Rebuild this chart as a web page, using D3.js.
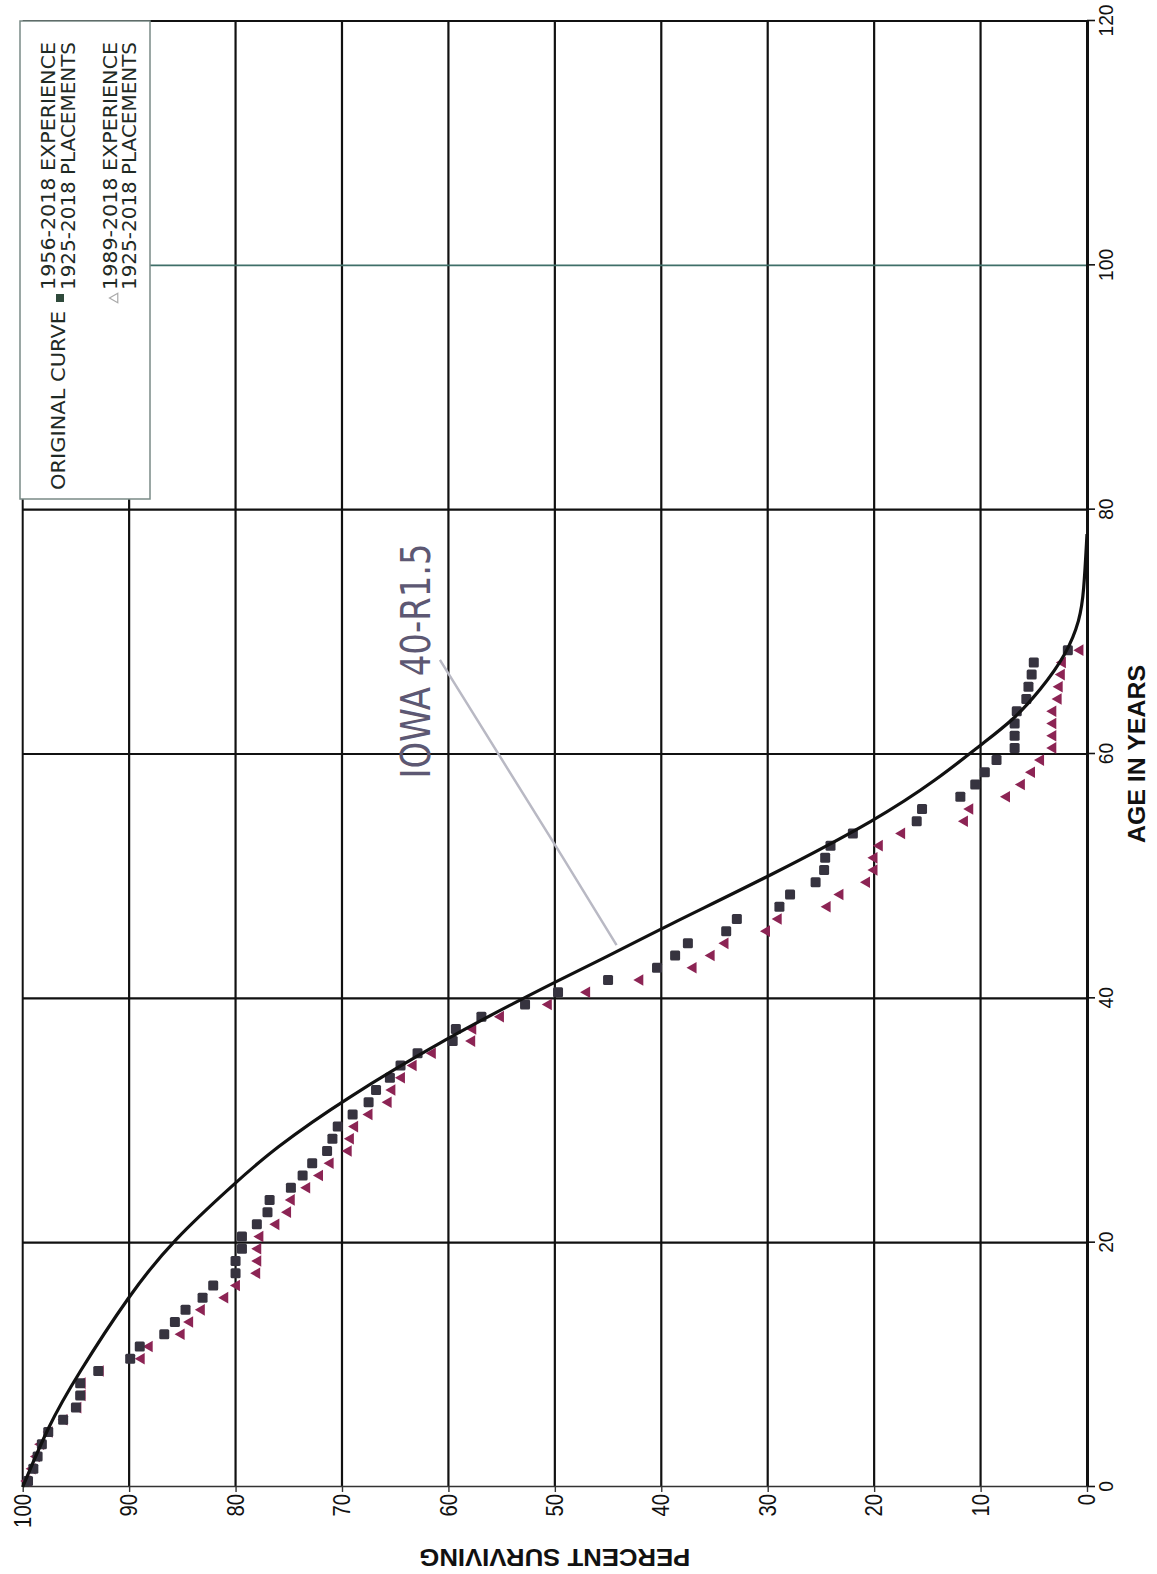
<!DOCTYPE html>
<html><head><meta charset="utf-8">
<script src="https://cdn.jsdelivr.net/npm/d3@7"></script>
<style>html,body{margin:0;padding:0;background:#fff;}svg{display:block;}</style>
</head><body>
<script>
// ---------- DATA ----------
const ageTicks = [0, 20, 40, 60, 80, 100, 120];
const pctTicks = [0, 10, 20, 30, 40, 50, 60, 70, 80, 90, 100];

// experience ages (mid-year brackets)
const ages = [0.5,1.5,2.5,3.5,4.5,5.5,6.5,7.5,8.5,9.5,10.5,11.5,12.5,13.5,14.5,15.5,16.5,17.5,18.5,19.5,
  20.5,21.5,22.5,23.5,24.5,25.5,26.5,27.5,28.5,29.5,30.5,31.5,32.5,33.5,34.5,35.5,36.5,37.5,38.5,39.5,
  40.5,41.5,42.5,43.5,44.5,45.5,46.5,47.5,48.5,49.5,50.5,51.5,52.5,53.5,54.5,55.5,56.5,57.5,58.5,59.5,
  60.5,61.5,62.5,63.5,64.5,65.5,66.5,67.5,68.5];

// 1956-2018 experience / 1925-2018 placements (squares)
const exp1956 = [99.5,99.0,98.6,98.2,97.6,96.2,95.0,94.6,94.6,92.9,89.9,89.0,86.7,85.7,84.7,83.1,82.1,80.0,80.0,79.4,
  79.4,78.0,77.0,76.8,74.8,73.7,72.8,71.4,70.9,70.4,69.0,67.5,66.8,65.5,64.5,62.9,59.6,59.3,56.9,52.8,
  49.7,45.0,40.4,38.7,37.5,33.9,32.9,28.9,27.9,25.5,24.7,24.6,24.1,22.0,16.0,15.5,11.9,10.5,9.6,8.5,
  6.8,6.8,6.8,6.6,5.7,5.5,5.2,5.0,1.8];

// 1989-2018 experience / 1925-2018 placements (triangles)
const exp1989 = [99.6,99.1,98.7,98.3,97.5,96.1,94.8,94.4,94.4,92.7,88.85,88.1,85.1,84.3,83.2,81.0,79.9,78.0,77.9,77.9,
  77.7,76.2,75.1,74.75,73.3,72.1,71.1,69.4,69.2,68.8,67.45,65.65,65.3,64.4,63.3,61.5,57.8,57.7,55.1,50.6,
  47.0,42.0,37.0,35.3,34.0,30.1,29.0,24.4,23.2,20.7,20.0,20.0,19.5,17.4,11.5,11.0,7.55,6.15,5.2,4.35,
  3.2,3.2,3.2,3.2,2.7,2.6,2.4,2.3,0.65];

// Iowa 40-R1.5 original curve
const curveAges = [0, 5, 9, 15.85, 20.2, 25, 27.6, 31.7, 37, 39.85, 41.5, 43.1, 45.85, 50.1, 54.7, 57.9, 60.9, 62.8, 65.2, 68.2, 71, 73.2, 78];
const curvePct  = [100, 97.6, 95.0, 89.9, 85.9, 79.9, 76.5, 69.9, 59.6, 53.3, 49.6, 45.8, 39.7, 29.6, 19.6, 14.1, 9.75, 6.9, 4.4, 1.9, 0.66, 0.3, 0];

const legendLabels = ["ORIGINAL CURVE", "1956-2018 EXPERIENCE", "1925-2018 PLACEMENTS", "1989-2018 EXPERIENCE", "1925-2018 PLACEMENTS"];
const curveLabel = "IOWA 40-R1.5";
// annotation anchor points in data units (age, percent)
const leaderAges = [67.7, 51.6, 44.35];
const leaderPct = [60.8, 49.3, 44.2];

// ---------- LAYOUT ----------
const PW = 1157, PH = 1574;   // page
const svg = d3.select("body").append("svg").attr("width", PW).attr("height", PH);
svg.append("rect").attr("width", PW).attr("height", PH).attr("fill", "#fff");
const g = svg.append("g").attr("transform", `translate(0,${PH}) rotate(-90)`);

const x = d3.scaleLinear().domain([0, 120]).range([87, 1553]);
const y = d3.scaleLinear().domain([0, 100]).range([1087, 22.7]);

// gridlines
g.append("g").selectAll("line").data(pctTicks.filter(d => d > 0 && d < 100)).join("line")
  .attr("x1", x(0)).attr("x2", x(120)).attr("y1", d => y(d)).attr("y2", d => y(d))
  .attr("stroke", "#111").attr("stroke-width", 2.2);
g.append("g").selectAll("line").data(ageTicks.filter(d => d > 0 && d < 120)).join("line")
  .attr("y1", y(0)).attr("y2", y(100)).attr("x1", d => x(d)).attr("x2", d => x(d))
  .attr("stroke", d => d === 100 ? "#3f6f68" : "#111").attr("stroke-width", d => d === 100 ? 1.6 : 2.2);

// frame
g.append("line").attr("x1", x(0)).attr("x2", x(120)).attr("y1", y(100)).attr("y2", y(100)).attr("stroke", "#111").attr("stroke-width", 2);
g.append("line").attr("x1", x(120)).attr("x2", x(120)).attr("y1", y(0)).attr("y2", y(100)).attr("stroke", "#111").attr("stroke-width", 2);

// axes
const ax = g.append("g").attr("transform", `translate(0,${y(0)})`)
  .call(d3.axisBottom(x).tickValues(ageTicks).tickSize(8).tickPadding(3).tickSizeOuter(0));
ax.select(".domain").attr("stroke", "#111").attr("stroke-width", 3);
ax.selectAll(".tick line").attr("stroke", "#111").attr("stroke-width", 1.6);
ax.selectAll(".tick text").attr("font-family", "'Liberation Sans', Arial, sans-serif").attr("font-size", 21)
  .attr("fill", "#111").attr("textLength", function(d){ return String(d).length * 10.7; }).attr("lengthAdjust", "spacingAndGlyphs");

const ay = g.append("g").attr("transform", `translate(${x(0)},0)`)
  .call(d3.axisLeft(y).tickValues(pctTicks).tickSize(5).tickPadding(2).tickSizeOuter(0));
ay.select(".domain").attr("stroke", "#333").attr("stroke-width", 1.6);
ay.selectAll(".tick line").attr("stroke", "#333").attr("stroke-width", 1.4);
ay.selectAll(".tick text").attr("font-family", "'Liberation Sans', Arial, sans-serif").attr("font-size", 24)
  .attr("fill", "#111").attr("textLength", function(d){ return String(d).length * 11.3; }).attr("lengthAdjust", "spacingAndGlyphs");

// axis titles
g.append("text").attr("x", (x(0) + x(120)) / 2).attr("y", 1145).attr("text-anchor", "middle")
  .attr("font-family", "'Liberation Sans', Arial, sans-serif").attr("font-weight", "bold").attr("font-size", 24)
  .attr("textLength", 178).attr("lengthAdjust", "spacingAndGlyphs").attr("fill", "#111").text("AGE IN YEARS");
g.append("text").attr("transform", `translate(25,${(y(0) + y(100)) / 2}) rotate(-90)`).attr("text-anchor", "middle")
  .attr("font-family", "'Liberation Sans', Arial, sans-serif").attr("font-weight", "bold").attr("font-size", 24)
  .attr("textLength", 271).attr("lengthAdjust", "spacingAndGlyphs").attr("fill", "#111").text("PERCENT SURVIVING");

// leader line + curve label
g.append("path").attr("d", d3.line()(leaderAges.map((a, i) => [x(a), y(leaderPct[i])])))
  .attr("fill", "none").attr("stroke", "#b9b9c4").attr("stroke-width", 2.5);
g.append("text").attr("x", x(58.0)).attr("y", y(61.7))
  .attr("font-family", "'DejaVu Sans', Verdana, sans-serif").attr("font-size", 41)
  .attr("textLength", 235).attr("lengthAdjust", "spacingAndGlyphs").attr("fill", "#5d5873").text(curveLabel);

// markers: triangles then squares
const tri = d3.symbol().type(d3.symbolTriangle).size(58);
g.append("g").selectAll("path").data(ages).join("path")
  .attr("d", tri).attr("transform", (d, i) => `translate(${x(d)},${y(exp1989[i])})`)
  .attr("fill", "#8c2454");
g.append("g").selectAll("rect").data(ages).join("rect")
  .attr("x", d => x(d) - 5).attr("y", (d, i) => y(exp1956[i]) - 5).attr("width", 10).attr("height", 10)
  .attr("rx", 1.5).attr("fill", "#36333f");

// original curve
g.append("path").attr("d", d3.line().x((d, i) => x(curveAges[i])).y(d => y(d)).curve(d3.curveBasis)(curvePct))
  .attr("fill", "none").attr("stroke", "#111").attr("stroke-width", 3.2);

// legend
const lg = g.append("g");
lg.append("rect").attr("x", 1075).attr("y", 20).attr("width", 1553 - 1075).attr("height", 130)
  .attr("fill", "#fff").attr("stroke", "#7a8a86").attr("stroke-width", 1.5);
const lfont = "'DejaVu Sans', Verdana, sans-serif";
const lpos = [[1084, 65, 179], [1284, 55, 248], [1284, 75, 248], [1284, 117, 248], [1284, 136, 248]];
lg.selectAll("text").data(legendLabels).join("text")
  .attr("x", (d, i) => lpos[i][0]).attr("y", (d, i) => lpos[i][1])
  .attr("font-family", lfont).attr("font-size", 20)
  .attr("textLength", (d, i) => lpos[i][2]).attr("lengthAdjust", "spacingAndGlyphs")
  .attr("fill", "#1f2a25").text(d => d);
lg.append("rect").attr("x", 1272).attr("y", 56).attr("width", 8).attr("height", 8).attr("fill", "#2f4a3b");
lg.append("path").attr("d", d3.symbol().type(d3.symbolTriangle).size(40)).attr("transform", "translate(1276,115)")
  .attr("fill", "none").attr("stroke", "#aaa").attr("stroke-width", 1.2);
</script>
</body></html>
